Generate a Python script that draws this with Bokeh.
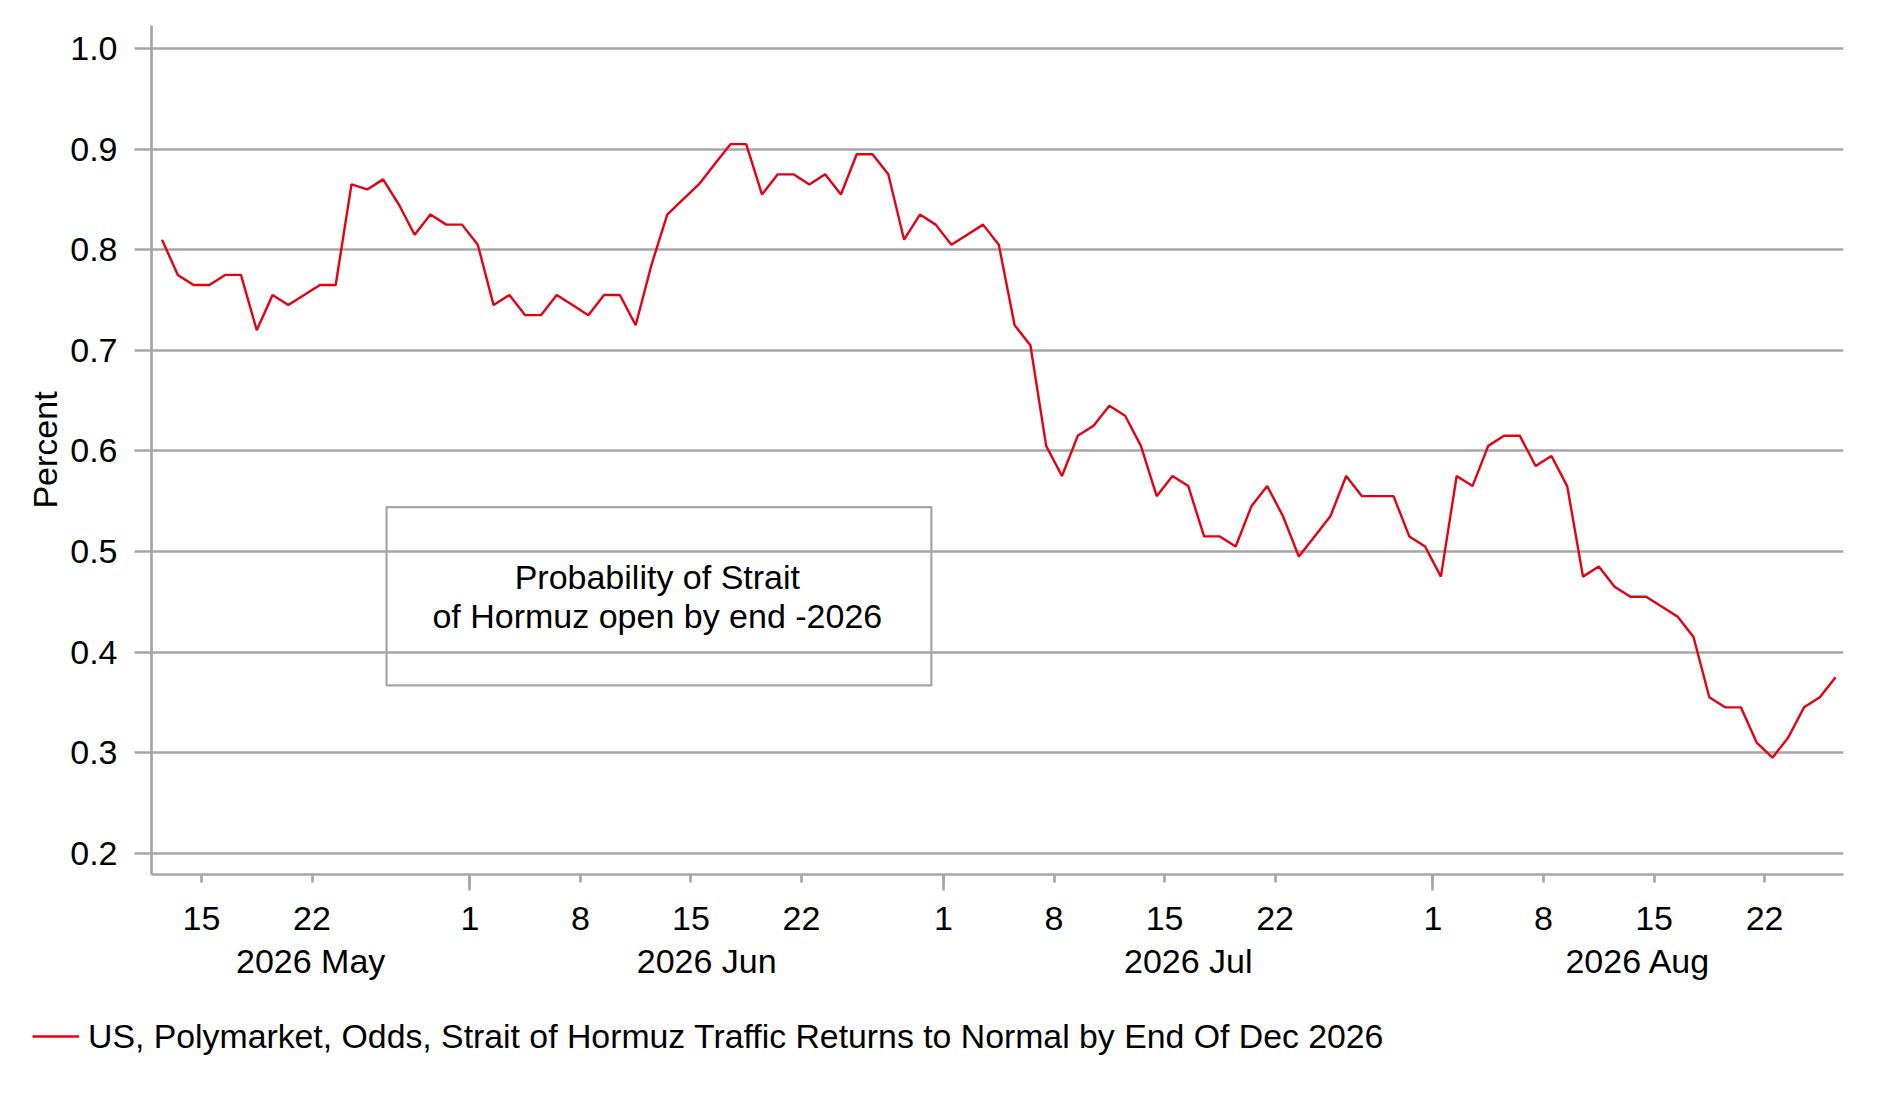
import pandas as pd
from bokeh.plotting import figure
from bokeh.layouts import column
from bokeh.models import (FixedTicker, LinearAxis, PrintfTickFormatter, Range1d,
                          Legend, LegendItem, Label, BoxAnnotation, Grid)
from bokeh.embed import file_html
from bokeh.resources import INLINE

# ---------------- data ----------------
values = [
    0.81, 0.775, 0.765, 0.765, 0.775, 0.775, 0.72, 0.755, 0.745, 0.755,
    0.765, 0.765, 0.865, 0.86, 0.87, 0.845, 0.815, 0.835, 0.825, 0.825,
    0.805, 0.745, 0.755, 0.735, 0.735, 0.755, 0.745, 0.735, 0.755, 0.755,
    0.725, 0.785, 0.835, 0.85, 0.865, 0.885, 0.905, 0.905, 0.855, 0.875,
    0.875, 0.865, 0.875, 0.855, 0.895, 0.895, 0.875, 0.81, 0.835, 0.825,
    0.805, 0.815, 0.825, 0.805, 0.725, 0.705, 0.605, 0.575, 0.615, 0.625,
    0.645, 0.635, 0.605, 0.555, 0.575, 0.565, 0.515, 0.515, 0.505, 0.545,
    0.565, 0.535, 0.495, 0.515, 0.535, 0.575, 0.555, 0.555, 0.555, 0.515,
    0.505, 0.475, 0.575, 0.565, 0.605, 0.615, 0.615, 0.585, 0.595, 0.565,
    0.475, 0.485, 0.465, 0.455, 0.455, 0.445, 0.435, 0.415, 0.355, 0.345,
    0.345, 0.31, 0.295, 0.315, 0.345, 0.355, 0.375,
]
first_date = "2026-05-12 12:00"
dates = pd.date_range(first_date, periods=len(values), freq="D")

day_ticks = ["2026-05-15", "2026-05-22", "2026-06-01", "2026-06-08", "2026-06-15",
             "2026-06-22", "2026-07-01", "2026-07-08", "2026-07-15", "2026-07-22",
             "2026-08-01", "2026-08-08", "2026-08-15", "2026-08-22"]
month_starts = ["2026-06-01", "2026-07-01", "2026-08-01"]
month_labels = ["2026 May", "2026 Jun", "2026 Jul", "2026 Aug"]
y_ticks = [0.2, 0.3, 0.4, 0.5, 0.6, 0.7, 0.8, 0.9, 1.0]

series_name = "US, Polymarket, Odds, Strait of Hormuz Traffic Returns to Normal by End Of Dec 2026"
note_lines = ["Probability of Strait", "of Hormuz open by end -2026"]

# ---------------- helpers ----------------
def ms(t):
    return int(pd.Timestamp(t).value // 10**6)

def no_frame_align(fig):
    if "frame_align" in fig.properties():
        fig.frame_align = False

GRAY = "#a6a6a6"
RED = "#e60012"
FONT = "Liberation Sans"
FS = "34px"

x_start = pd.Timestamp("2026-05-11 20:00")
x_end = pd.Timestamp("2026-08-27 00:00")
x_ms = [ms(d) for d in dates]

p = figure(width=1867, height=1000,
           x_range=Range1d(ms(x_start), ms(x_end)),
           y_range=Range1d(0.1788, 1.023),
           x_axis_type=None, y_axis_type=None,
           output_backend="svg", toolbar_location=None,
           min_border_left=151, min_border_right=24,
           min_border_top=25, min_border_bottom=126)
p.outline_line_color = None
p.background_fill_color = "white"
p.border_fill_color = "white"
no_frame_align(p)

# y axis
yticker = FixedTicker(ticks=y_ticks, minor_ticks=[])
yax = LinearAxis(ticker=yticker, formatter=PrintfTickFormatter(format="%.1f"),
                 axis_label="Percent")
yax.axis_line_color = GRAY
yax.axis_line_width = 2.7
yax.major_tick_line_color = GRAY
yax.major_tick_line_width = 2.7
yax.major_tick_out = 17
yax.major_tick_in = 0
yax.minor_tick_line_color = None
yax.major_label_text_font = FONT
yax.major_label_text_font_size = FS
yax.major_label_text_color = "black"
yax.major_label_standoff = 17
yax.axis_label_text_font = FONT
yax.axis_label_text_font_size = FS
yax.axis_label_text_font_style = "normal"
yax.axis_label_text_color = "black"
yax.axis_label_standoff = 3
p.add_layout(yax, "left")

p.add_layout(Grid(dimension=1, ticker=yticker, grid_line_color=GRAY,
                  grid_line_width=2.7))

# x axis: day numbers
day_ms = [ms(d) for d in day_ticks]
xax = LinearAxis(ticker=FixedTicker(ticks=day_ms, minor_ticks=[ms(m) for m in month_starts]),
                 major_label_overrides={m: str(pd.Timestamp(d).day) for m, d in zip(day_ms, day_ticks)})
xax.axis_line_color = GRAY
xax.axis_line_width = 2.7
xax.major_tick_line_color = GRAY
xax.major_tick_line_width = 2.7
xax.major_tick_out = 8
xax.major_tick_in = 0
xax.minor_tick_line_color = GRAY
xax.minor_tick_line_width = 2.7
xax.minor_tick_out = 16
xax.minor_tick_in = 0
xax.major_label_text_font = FONT
xax.major_label_text_font_size = FS
xax.major_label_text_color = "black"
xax.major_label_standoff = 16
p.add_layout(xax, "below")

# x axis: month labels, centred in each month's visible span
bounds = [x_start] + [pd.Timestamp(m) for m in month_starts] + [x_end]
month_centers = [ms(bounds[i] + (bounds[i + 1] - bounds[i]) / 2) for i in range(len(month_labels))]
max_ = LinearAxis(ticker=FixedTicker(ticks=month_centers, minor_ticks=[]),
                  major_label_overrides={c: l for c, l in zip(month_centers, month_labels)})
max_.axis_line_color = None
max_.major_tick_line_color = None
max_.minor_tick_line_color = None
max_.major_tick_out = 0
max_.major_tick_in = 0
max_.major_label_text_font = FONT
max_.major_label_text_font_size = FS
max_.major_label_text_color = "black"
max_.major_label_standoff = 9
p.add_layout(max_, "below")

# series
r = p.line(x=x_ms, y=values, line_color=RED, line_width=2.4)

# annotation box
day0 = pd.Timestamp("2026-05-15")
box = BoxAnnotation(left=ms(day0 + pd.Timedelta(days=11.72)),
                    right=ms(day0 + pd.Timedelta(days=46.23)),
                    top=0.5441, bottom=0.3668,
                    fill_alpha=0, fill_color=None,
                    line_color=GRAY, line_alpha=1.0, line_width=2.2)
p.add_layout(box)
text_x = ms(day0 + pd.Timedelta(days=28.87))
for txt, yv in zip(note_lines, [0.4745, 0.4360]):
    p.add_layout(Label(x=text_x, y=yv, text=txt, text_align="center",
                       text_baseline="alphabetic", text_font=FONT,
                       text_font_size=FS, text_color="black"))

# legend strip under the chart (the same series, kept outside this strip's view)
lg = figure(width=1867, height=85,
            x_range=Range1d(ms(x_start), ms(x_end)), y_range=Range1d(5, 6),
            x_axis_type=None, y_axis_type=None,
            output_backend="svg", toolbar_location=None,
            min_border_left=0, min_border_right=0, min_border_top=0, min_border_bottom=0)
lg.outline_line_color = None
lg.background_fill_color = "white"
lg.border_fill_color = "white"
no_frame_align(lg)
proxy = lg.line(x=x_ms, y=values, line_color=RED, line_width=2.4)
legend = Legend(items=[LegendItem(label=series_name, renderers=[proxy])],
                location=(32, 29))
legend.label_text_font = FONT
legend.label_text_font_size = "33.8px"
legend.label_text_color = "black"
legend.label_text_baseline = "middle"
legend.glyph_width = 47
legend.glyph_height = 40
legend.label_height = 40
legend.label_standoff = 9
legend.padding = 0
legend.margin = 0
legend.spacing = 0
legend.border_line_color = None
legend.background_fill_alpha = 0
lg.add_layout(legend)

open("out.html", "w").write(file_html(column(p, lg), INLINE))
